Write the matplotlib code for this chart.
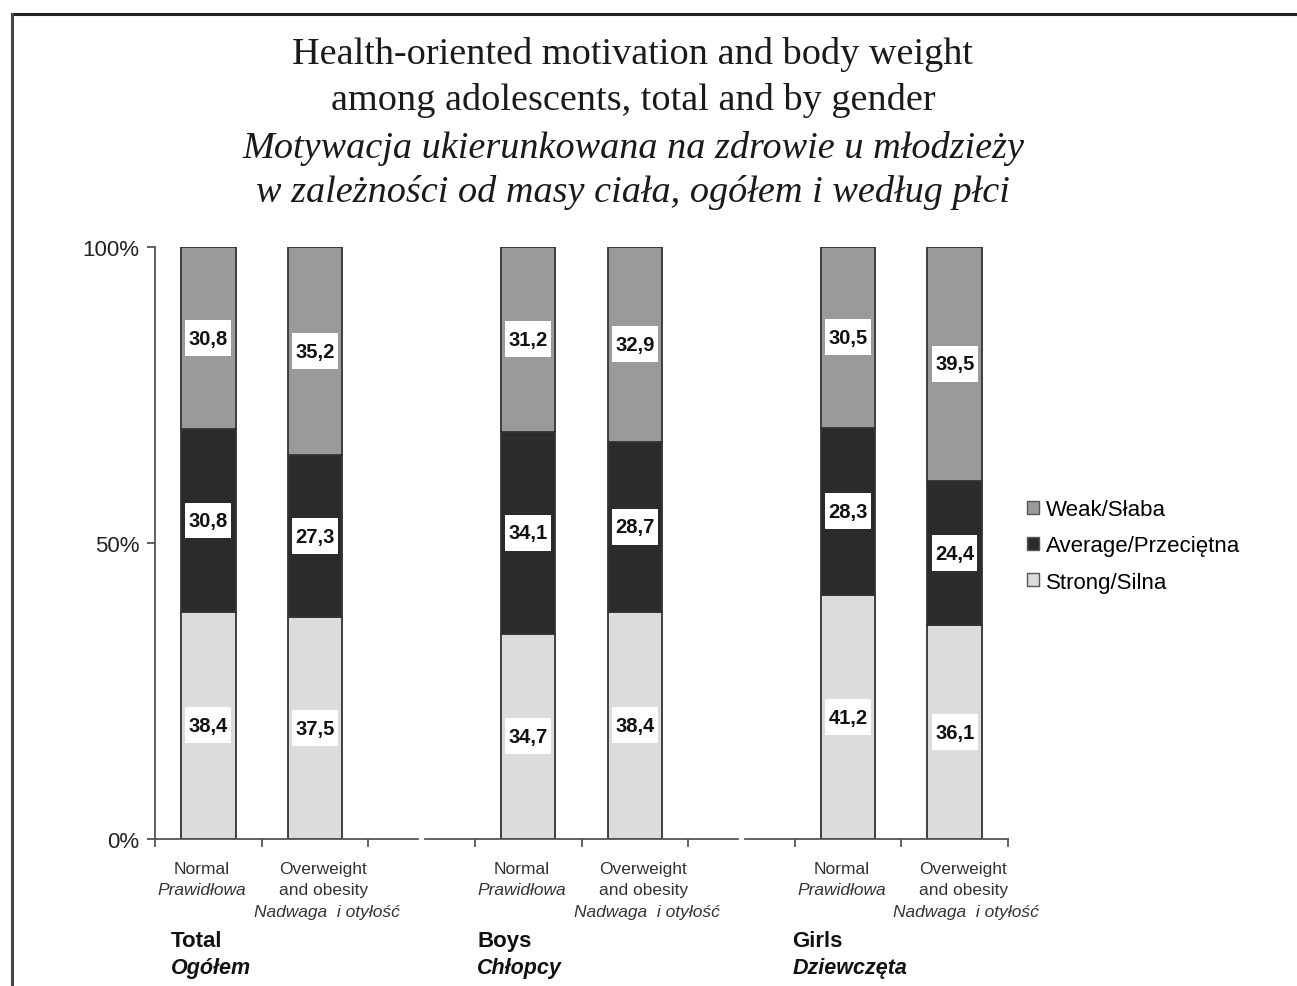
import matplotlib
matplotlib.use("Agg")
import matplotlib.pyplot as plt
from matplotlib.lines import Line2D
from matplotlib.patches import Patch
from matplotlib.path import Path
import matplotlib.transforms as mtransforms

# ---------------- data ----------------
groups = ["Total", "Boys", "Girls"]
groups_pl = ["Ogółem", "Chłopcy", "Dziewczęta"]
weight_en = ["Normal", "Overweight\nand obesity"]
weight_pl = ["Prawidłowa", "Nadwaga  i otyłość"]
series = ["Strong/Silna", "Average/Przeciętna", "Weak/Słaba"]
# order of bars: Total-Normal, Total-Over, Boys-Normal, Boys-Over, Girls-Normal, Girls-Over
strong = [38.4, 37.5, 34.7, 38.4, 41.2, 36.1]
average = [30.8, 27.3, 34.1, 28.7, 28.3, 24.4]
weak = [30.8, 35.2, 31.2, 32.9, 30.5, 39.5]
yticks = [0, 50, 100]
ytick_labels = ["0%", "50%", "100%"]

colors = ["#dcdcdc", "#2b2b2b", "#9a9a9a"]
edge = "#333333"


def label_box(x0, y0, width, height, mutation_size):
    px = 0.16 * mutation_size
    py = 0.42 * mutation_size
    x0 -= px
    y0 -= py
    x1 = x0 + width + 2 * px
    y1 = y0 + height + 2 * py
    return Path([(x0, y0), (x1, y0), (x1, y1), (x0, y1), (x0, y0)], closed=True)


fig = plt.figure(figsize=(12.97, 9.87), dpi=100)
ax = fig.add_axes([155/1297, 1-840/987, (1008-155)/1297, (840-248)/987])

# bar positions: 8 category slots, empty slot between groups
pos = []
for g in range(len(groups)):
    for w in range(len(weight_en)):
        pos.append(g * 3 + w)

bottoms = [0] * len(pos)
for vals, col in zip([strong, average, weak], colors):
    ax.bar(pos, vals, bottom=bottoms, width=0.51, color=col,
           edgecolor=edge, linewidth=1.3, zorder=2)
    for x, b, v in zip(pos, bottoms, vals):
        ax.text(x, b + v / 2, f"{v:.1f}".replace(".", ","), ha="center", va="center",
                fontsize=14.5, fontweight="bold", family="Liberation Sans", color="#111111",
                bbox=dict(boxstyle=label_box, fc="white", ec="none"), zorder=3)
    bottoms = [b + v for b, v in zip(bottoms, vals)]

ax.set_xlim(-0.5, 7.5)
ax.set_ylim(0, 100)
for s in ["top", "right", "bottom"]:
    ax.spines[s].set_visible(False)
ax.spines["left"].set_color("#555555")
ax.spines["left"].set_linewidth(1.3)
ax.set_yticks(yticks)
ax.set_yticklabels(ytick_labels, family="Liberation Sans", fontsize=16, color="#222222")
ax.tick_params(axis="y", length=6, width=1.3, color="#555555", pad=5)

# broken x axis line
ax.set_xticks([])
gap = 0.03
segs = [(-0.5, 2 - gap), (2 + gap, 5 - gap), (5 + gap, 7.5)]
for a, b in segs:
    ax.plot([a, b], [0, 0], color="#555555", lw=1.3, clip_on=False, zorder=4)
for t in range(9):
    xb = t - 0.5
    ax.plot([xb, xb], [0, -1.2], color="#555555", lw=1.3, clip_on=False, zorder=4)

trans = mtransforms.blended_transform_factory(ax.transData, fig.transFigure)
for i, x in enumerate(pos):
    w = i % 2
    if w == 0:
        ax.text(x - 0.06, 1 - 870/987, weight_en[0], transform=trans, ha="center", va="center",
                fontsize=12.5, family="Liberation Sans", color="#333333")
        ax.text(x - 0.06, 1 - 891/987, weight_pl[0], transform=trans, ha="center", va="center",
                fontsize=12.5, family="Liberation Sans", style="italic", color="#333333")
    else:
        l1, l2 = weight_en[1].split("\n")
        ax.text(x + 0.08, 1 - 870/987, l1, transform=trans, ha="center", va="center",
                fontsize=12.5, family="Liberation Sans", color="#333333")
        ax.text(x + 0.08, 1 - 891/987, l2, transform=trans, ha="center", va="center",
                fontsize=12.5, family="Liberation Sans", color="#333333")
        ax.text(x + 0.11, 1 - 913/987, weight_pl[1], transform=trans, ha="center", va="center",
                fontsize=12.5, family="Liberation Sans", style="italic", color="#333333")

group_x = [-0.35, 2.52, 5.48]
for gx, en, pl in zip(group_x, groups, groups_pl):
    ax.text(gx, 1 - 942/987, en, transform=trans, ha="left", va="center",
            fontsize=16, fontweight="bold", family="Liberation Sans", color="#111111")
    ax.text(gx, 1 - 969/987, pl, transform=trans, ha="left", va="center",
            fontsize=15.5, fontweight="bold", style="italic", family="Liberation Sans",
            color="#111111")

# legend
handles = [Patch(facecolor=colors[k], edgecolor="#555555", linewidth=1.0) for k in [2, 1, 0]]
labels = [series[k] for k in [2, 1, 0]]
fig.legend(handles, labels, loc="center left", bbox_to_anchor=(1027/1297, 1 - 547/987),
           frameon=False, prop=dict(family="Liberation Sans", size=16),
           handlelength=0.55, handleheight=0.55, handletextpad=0.3, labelspacing=0.68,
           borderpad=0, borderaxespad=0)

# title
title_lines = [
    ("Health-oriented motivation and body weight", "normal", 55),
    ("among adolescents, total and by gender", "normal", 101),
    ("Motywacja ukierunkowana na zdrowie u młodzieży", "italic", 148),
    ("w zależności od masy ciała, ogółem i według płci", "italic", 193),
]
for txt, st, y in title_lines:
    fig.text(633/1297, 1 - y/987, txt, ha="center", va="center", fontsize=27.5,
             family="Liberation Serif", style=st, color="#1a1a1a")

# frame lines
fig.add_artist(Line2D([12/1297, 1], [1 - 15/987] * 2, color="#222222", lw=2.2,
                      transform=fig.transFigure))
fig.add_artist(Line2D([12/1297] * 2, [0, 1 - 15/987], color="#444444", lw=2.2,
                      transform=fig.transFigure))

fig.savefig("out.png", dpi=100)
